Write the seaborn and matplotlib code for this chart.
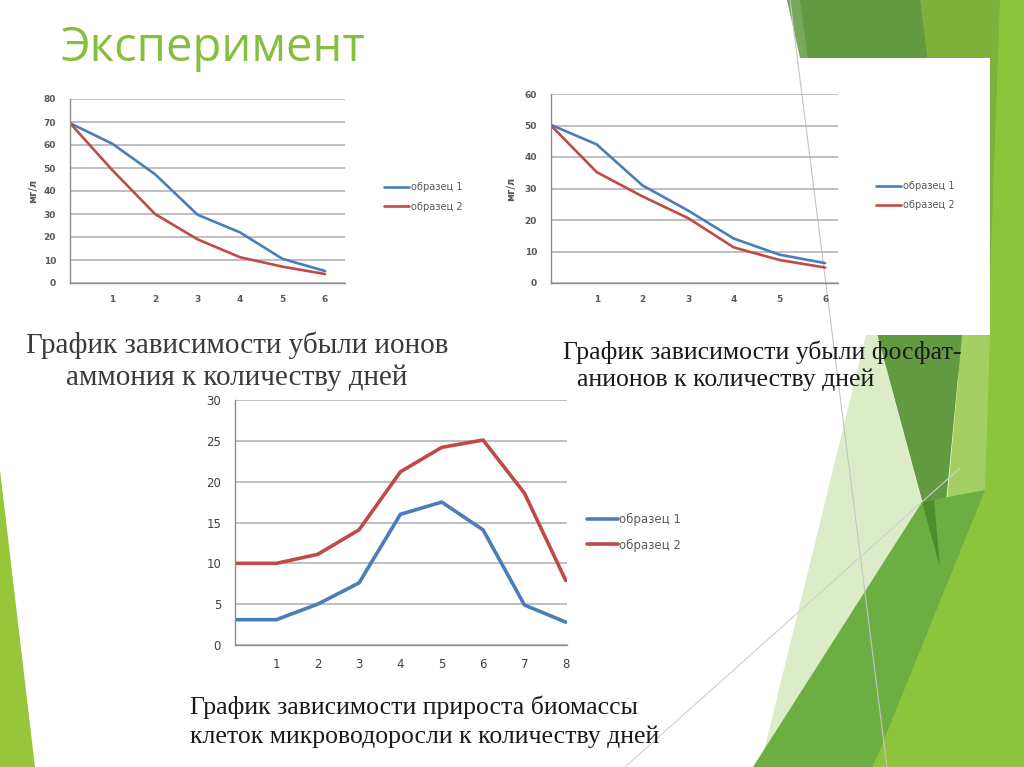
import matplotlib
matplotlib.use("Agg")
import matplotlib.pyplot as plt
from matplotlib.patches import Polygon, Rectangle
from matplotlib.lines import Line2D
import seaborn as sns

# ---- data ----
days_6 = [0, 1, 2, 3, 4, 5, 6]
ammonium_s1 = [69.5, 60.5, 47.3, 29.7, 22.0, 10.5, 5.2]
ammonium_s2 = [69.5, 49.0, 30.0, 19.0, 11.2, 7.1, 3.9]
phosphate_s1 = [50.2, 44.0, 31.0, 23.0, 14.1, 9.0, 6.3]
phosphate_s2 = [50.0, 35.2, 27.5, 20.6, 11.3, 7.3, 4.9]

days_8 = [0, 1, 2, 3, 4, 5, 6, 7, 8]
biomass_s1 = [3.1, 3.1, 5.0, 7.6, 16.0, 17.5, 14.1, 4.9, 2.8]
biomass_s2 = [10.0, 10.0, 11.1, 14.1, 21.2, 24.2, 25.1, 18.6, 7.9]

series_labels = ["образец 1", "образец 2"]
title = "Эксперимент"
caption_1 = "График зависимости убыли ионов\nаммония к количеству дней"
caption_2a = "График зависимости убыли фосфат-"
caption_2b = "анионов к количеству дней"
caption_3 = "График зависимости прироста биомассы\nклеток микроводоросли к количеству дней"

BLUE = "#4a7ebb"
RED = "#be4b48"
GRID = "#b3b3b3"
AXIS = "#8c8c8c"

sns.set_theme(style="white")
plt.rcParams["font.family"] = ["DejaVu Sans"]

W, H = 1024, 767
fig = plt.figure(figsize=(W / 100, H / 100), dpi=100)


def rect(left, top, right, bottom):
    return [left / W, 1 - bottom / H, (right - left) / W, (bottom - top) / H]


# ---- slide background (green decoration) ----
bg = fig.add_axes([0, 0, 1, 1], zorder=0)
bg.set_xlim(0, W)
bg.set_ylim(H, 0)
bg.axis("off")

shapes = [
    ([(900, 0), (1024, 0), (1024, 767), (873, 767), (940, 567), (975, 480)], "#8cc43c"),
    ([(915, 0), (1000, 0), (988, 335), (962, 335)], "#7fb13a"),
    ([(962, 335), (990, 335), (985, 490), (940, 580)], "#a3cf63"),
    ([(866, 335), (877, 335), (922, 502), (760, 767)], "#dcecc8"),
    ([(787, 0), (920, 0), (962, 335), (940, 567)], "#619a40"),
    ([(787, 0), (800, 0), (808, 60), (800, 58)], "#78a85a"),
    ([(922, 502), (985, 490), (873, 767), (753, 767)], "#6cae42"),
    ([(0, 470), (35, 767), (0, 767)], "#98c63b"),
]
for pts, col in shapes:
    bg.add_patch(Polygon(pts, closed=True, facecolor=col, edgecolor="none"))
# dark overlap near the wedge tip
bg.add_patch(Polygon([(922, 502), (934, 500), (940, 567)], facecolor="#4e8c2c", edgecolor="none"))
bg.plot([790, 887], [0, 767], color="#c4c4c4", lw=0.8)
bg.plot([625, 960], [767, 468], color="#cfcfcf", lw=0.8)
# white card behind the second chart
bg.add_patch(Rectangle((500, 58), 490, 277, facecolor="white", edgecolor="none"))

fig.text(61 / W, 1 - 48 / H, title, color="#86bf3c", fontsize=34,
         family=["Open Sans", "DejaVu Sans"], va="center", ha="left")


def style_axes(ax, ylim, yticks, xmax, xticks, tick_fs, bold, tick_col):
    ax.set_facecolor("none")
    ax.set_ylim(*ylim)
    ax.set_xlim(0, xmax)
    ax.set_yticks(yticks)
    ax.set_xticks(xticks)
    ax.set_xticklabels(["" if t == 0 else str(t) for t in xticks])
    ax.yaxis.grid(True, color=GRID, lw=1.2)
    ax.xaxis.grid(False)
    for s in ["top", "right"]:
        ax.spines[s].set_visible(False)
    for s in ["left", "bottom"]:
        ax.spines[s].set_color(AXIS)
        ax.spines[s].set_linewidth(1.0)
    ax.tick_params(axis="both", which="both", direction="out", length=4,
                   width=0.8, color=AXIS, labelsize=tick_fs, labelcolor=tick_col)
    ax.tick_params(axis="y", pad=6)
    ax.tick_params(axis="x", pad=5)
    for lab in ax.get_xticklabels() + ax.get_yticklabels():
        lab.set_fontweight("bold" if bold else "normal")
    ax.set_xlabel("")
    ax.set_ylabel("")


def add_legend(ax, x, y, fs, lw, hl, spacing):
    handles = [Line2D([], [], color=BLUE, lw=lw), Line2D([], [], color=RED, lw=lw)]
    ax.legend(handles, series_labels, loc="upper left",
              bbox_to_anchor=(x / W, 1 - y / H), bbox_transform=fig.transFigure,
              frameon=False, fontsize=fs, handlelength=hl, handletextpad=0.15,
              labelspacing=spacing, borderaxespad=0, borderpad=0,
              labelcolor="#595959")


# ---- chart 1: ammonium ----
ax1 = fig.add_axes(rect(70, 99, 345, 283), zorder=2)
sns.lineplot(x=days_6, y=ammonium_s1, ax=ax1, color=BLUE, lw=1.9)
sns.lineplot(x=days_6, y=ammonium_s2, ax=ax1, color=RED, lw=1.9)
style_axes(ax1, (0, 80), range(0, 81, 10), 6.47, days_6, 6.5, True, "#595959")
ax1.set_ylabel("мг/л", fontsize=7, fontweight="bold", color="#595959", labelpad=4)
add_legend(ax1, 384, 182, 7, 1.9, 2.6, 1.0)

# ---- chart 2: phosphate ----
ax2 = fig.add_axes(rect(551, 94, 838, 283), zorder=2)
sns.lineplot(x=days_6, y=phosphate_s1, ax=ax2, color=BLUE, lw=1.9)
sns.lineplot(x=days_6, y=phosphate_s2, ax=ax2, color=RED, lw=1.9)
style_axes(ax2, (0, 60), range(0, 61, 10), 6.28, days_6, 6.5, True, "#595959")
ax2.set_ylabel("мг/л", fontsize=7, fontweight="bold", color="#595959", labelpad=6)
add_legend(ax2, 876, 181, 7, 1.9, 2.6, 0.95)

# ---- chart 3: biomass ----
ax3 = fig.add_axes(rect(235, 400, 567, 645), zorder=2)
sns.lineplot(x=days_8, y=biomass_s1, ax=ax3, color=BLUE, lw=2.6)
sns.lineplot(x=days_8, y=biomass_s2, ax=ax3, color=RED, lw=2.6)
style_axes(ax3, (0, 30), range(0, 31, 5), 8.03, days_8, 8.5, False, "#404040")
add_legend(ax3, 587, 513, 8.5, 2.6, 2.6, 1.05)

# ---- captions ----
serif = ["Liberation Serif", "DejaVu Serif"]
fig.text(237 / W, 1 - 361 / H, caption_1, ha="center", va="center", fontsize=21,
         family=serif, color="#3a3a3a", linespacing=1.25, multialignment="center")
fig.text(563 / W, 1 - 352 / H, caption_2a, ha="left", va="center", fontsize=18.5,
         family=serif, color="#1a1a1a")
fig.text(577 / W, 1 - 380 / H, caption_2b, ha="left", va="center", fontsize=18.5,
         family=serif, color="#1a1a1a")
fig.text(190 / W, 1 - 722 / H, caption_3, ha="left", va="center", fontsize=18.5,
         family=serif, color="#1a1a1a", linespacing=1.4)

fig.savefig("out.png", dpi=100)
